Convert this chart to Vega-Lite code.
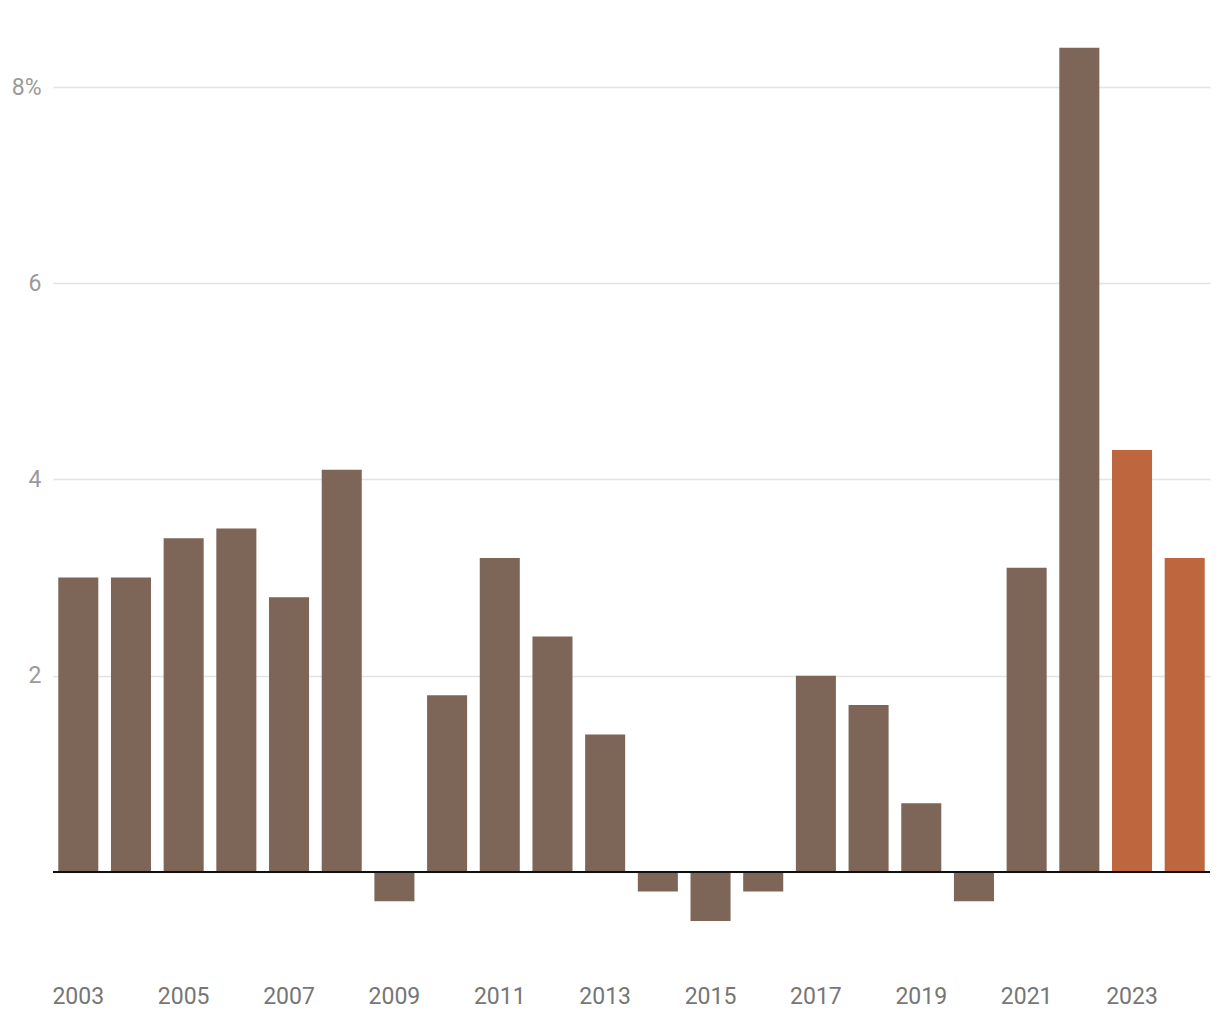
{
  "$schema": "https://vega.github.io/schema/vega-lite/v6.json",
  "autosize": {"type": "none"},
  "padding": {"left": 53, "top": 38, "right": 10, "bottom": 50},
  "width": 1157,
  "height": 932,
  "background": "white",
  "config": {
    "view": {"stroke": null},
    "font": "Roboto"
  },
  "data": {
    "values": [
      {"year": 2003, "value": 3.0, "kind": "actual"},
      {"year": 2004, "value": 3.0, "kind": "actual"},
      {"year": 2005, "value": 3.4, "kind": "actual"},
      {"year": 2006, "value": 3.5, "kind": "actual"},
      {"year": 2007, "value": 2.8, "kind": "actual"},
      {"year": 2008, "value": 4.1, "kind": "actual"},
      {"year": 2009, "value": -0.3, "kind": "actual"},
      {"year": 2010, "value": 1.8, "kind": "actual"},
      {"year": 2011, "value": 3.2, "kind": "actual"},
      {"year": 2012, "value": 2.4, "kind": "actual"},
      {"year": 2013, "value": 1.4, "kind": "actual"},
      {"year": 2014, "value": -0.2, "kind": "actual"},
      {"year": 2015, "value": -0.5, "kind": "actual"},
      {"year": 2016, "value": -0.2, "kind": "actual"},
      {"year": 2017, "value": 2.0, "kind": "actual"},
      {"year": 2018, "value": 1.7, "kind": "actual"},
      {"year": 2019, "value": 0.7, "kind": "actual"},
      {"year": 2020, "value": -0.3, "kind": "actual"},
      {"year": 2021, "value": 3.1, "kind": "actual"},
      {"year": 2022, "value": 8.4, "kind": "actual"},
      {"year": 2023, "value": 4.3, "kind": "forecast"},
      {"year": 2024, "value": 3.2, "kind": "forecast"}
    ]
  },
  "layer": [
    {
      "mark": {"type": "bar"},
      "encoding": {
        "x": {
          "field": "year",
          "type": "ordinal",
          "scale": {"paddingInner": 0.24, "paddingOuter": 0.1},
          "axis": {
            "title": null,
            "ticks": false,
            "domain": false,
            "labelAngle": 0,
            "labelFontSize": 23,
            "labelColor": "#767676",
            "labelPadding": 15,
            "labelBaseline": "top",
            "labelExpr": "datum.value % 2 == 1 ? datum.label : ''"
          }
        },
        "y": {
          "field": "value",
          "type": "quantitative",
          "scale": {"domain": [-1, 8.5], "nice": false, "zero": false},
          "axis": {
            "title": null,
            "values": [0, 2, 4, 6, 8],
            "format": "d",
            "ticks": false,
            "domain": false,
            "gridColor": "#e3e3e3",
            "gridWidth": 1.5,
            "labelFontSize": 23,
            "labelColor": "#9a9a9a",
            "labelPadding": 12,
            "labelExpr": "datum.value == 8 ? '8%' : (datum.value == 0 ? '' : datum.label)"
          }
        },
        "color": {
          "field": "kind",
          "type": "nominal",
          "scale": {"domain": ["actual", "forecast"], "range": ["#7d6557", "#be673e"]},
          "legend": null
        }
      }
    },
    {
      "mark": {"type": "rule", "color": "#111111", "strokeWidth": 2},
      "encoding": {"y": {"datum": 0}}
    }
  ]
}
